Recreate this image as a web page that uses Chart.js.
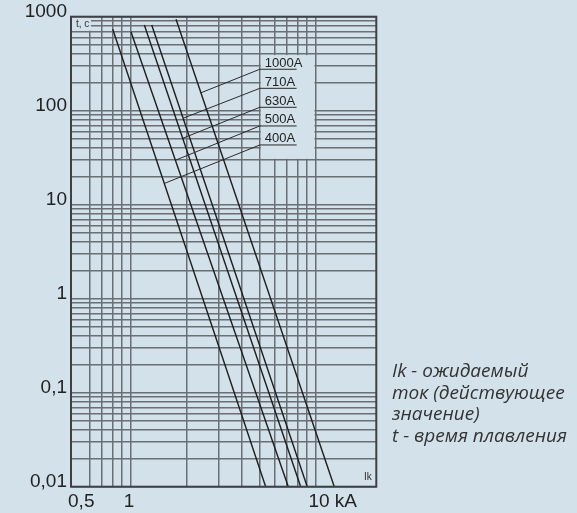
<!DOCTYPE html>
<html>
<head>
<meta charset="utf-8">
<script src="https://cdn.jsdelivr.net/npm/chart.js@4.4.1/dist/chart.umd.min.js"></script>
<style>
  html, body { margin: 0; padding: 0; background: #d3e1eb; }
  #wrap { position: relative; width: 577px; height: 513px; }
</style>
</head>
<body>
<div id="wrap">
  <canvas id="chart" width="577" height="513"></canvas>
</div>
<script>
// fuse ratings and their melting curves (straight lines in log-log)
const ratings = ['400A', '500A', '630A', '710A', '1000A'];
const iStart = [0.80, 1.004, 1.186, 1.30, 1.76];   // kA at the top of the curve
const tStart = [734, 692, 816, 816, 938];          // s
const iEnd = [5.38, 7.13, 8.32, 9.03, 12.65];      // kA where the curve leaves at 0,01 s
const tEnd = [0.01, 0.01, 0.01, 0.01, 0.01];

// leader lines from the curve to the underlined rating label
const leaderI = [1.53, 1.76, 1.91, 1.92, 2.40];
const leaderT = [16.9, 29.9, 50.8, 83, 155];
const underlineT = [43.2, 68.8, 108.7, 173, 276];
const underlineFrom = 5;
const underlineTo = 7.91;

// axes
const xGrid = [0.5, 0.6, 0.7, 0.8, 0.9, 1, 2, 3, 4, 5, 6, 7, 8, 9, 10];
const xLabelValues = [0.5, 1, 10];
const xLabelText = ['0,5', '1', '10 kA'];
const yDecades = [0.01, 0.1, 1, 10, 100];
const ySteps = [1, 2, 3, 4, 5, 6, 7, 8, 9];
const yLabelValues = [0.01, 0.1, 1, 10, 100, 1000];
const yLabelText = ['0,01', '0,1', '1', '10', '100', '1000'];

const noteLines = ['Ik - ожидаемый', 'ток (действующее', 'значение)', 't - время плавления'];

const BG = '#d3e1eb';
const GRID = '#6a6f74';
const INK = '#1e1e1e';
const SANS = '"Liberation Sans", Arial, sans-serif';

const yGrid = [];
yDecades.forEach(d => ySteps.forEach(s => yGrid.push(d * s)));
yGrid.push(1000);

const datasets = [];
ratings.forEach((r, k) => {
  datasets.push({
    label: r,
    data: [{x: iStart[k], y: tStart[k]}, {x: iEnd[k], y: tEnd[k]}],
    borderColor: INK,
    borderWidth: 1.4,
    pointRadius: 0
  });
  datasets.push({
    label: r + ' leader',
    data: [
      {x: leaderI[k], y: leaderT[k]},
      {x: underlineFrom, y: underlineT[k]},
      {x: underlineTo, y: underlineT[k]}
    ],
    borderColor: '#2a2a2a',
    borderWidth: 1,
    pointRadius: 0
  });
});

const overlay = {
  id: 'overlay',
  beforeDatasetsDraw(chart) {
    const {ctx, chartArea, scales: {x, y}} = chart;
    ctx.save();
    ctx.fillStyle = BG;
    // empty panel behind the rating labels
    const l = x.getPixelForValue(5) + 1, r = x.getPixelForValue(10) - 1;
    const t = y.getPixelForValue(400) + 1, b = y.getPixelForValue(30) - 1;
    ctx.fillRect(l, t, r - l, b - t);
    // corner behind "t, c"
    ctx.fillRect(chartArea.left + 1, chartArea.top + 1, 19, 13);
    ctx.restore();
  },
  afterDraw(chart) {
    const {ctx, chartArea, scales: {x, y}} = chart;
    ctx.save();
    ctx.strokeStyle = '#3d4145';
    ctx.lineWidth = 2;
    ctx.strokeRect(chartArea.left, chartArea.top, chartArea.right - chartArea.left, chartArea.bottom - chartArea.top);

    ctx.fillStyle = '#222';
    ctx.font = '13px ' + SANS;
    ctx.textBaseline = 'alphabetic';
    ratings.forEach((r, k) => {
      ctx.fillText(r, x.getPixelForValue(underlineFrom) + 5, y.getPixelForValue(underlineT[k]) - 2.5);
    });

    ctx.fillStyle = '#333';
    ctx.font = '10px ' + SANS;
    ctx.textBaseline = 'middle';
    ctx.fillText('t, c', chartArea.left + 5, chartArea.top + 8);
    ctx.fillText('Ik', x.getPixelForValue(18.3), y.getPixelForValue(0.0127));

    ctx.fillStyle = '#333';
    ctx.font = 'italic 19px "Open Sans", sans-serif';
    ctx.textBaseline = 'alphabetic';
    noteLines.forEach((s, k) => ctx.fillText(s, 392, 377 + k * 21.7));
    ctx.restore();
  }
};

new Chart(document.getElementById('chart'), {
  type: 'line',
  data: {datasets},
  options: {
    responsive: false,
    animation: false,
    layout: {padding: {top: 16.7, right: 200.7, left: 0, bottom: 0}},
    plugins: {legend: {display: false}, tooltip: {enabled: false}},
    scales: {
      x: {
        type: 'logarithmic',
        min: 0.4755,
        max: 21.35,
        afterBuildTicks: s => { s.ticks = xGrid.map(v => ({value: v})); },
        afterFit: s => { s.height = 26.3; },
        border: {display: false},
        grid: {
          drawTicks: false,
          color: c => (c.tick && c.tick.value === 0.5) ? 'transparent' : GRID,
          lineWidth: 1.5
        },
        ticks: {
          autoSkip: false,
          maxRotation: 0,
          align: 'start',
          labelOffset: -7,
          padding: 4,
          color: '#222',
          font: {family: SANS, size: 19},
          callback: v => {
            const k = xLabelValues.indexOf(v);
            return k < 0 ? '' : xLabelText[k];
          }
        }
      },
      y: {
        type: 'logarithmic',
        min: 0.01,
        max: 1000,
        afterBuildTicks: s => { s.ticks = yGrid.map(v => ({value: v})); },
        afterFit: s => { s.width = 71; },
        border: {display: false},
        grid: {drawTicks: false, color: GRID, lineWidth: 1.5},
        ticks: {
          autoSkip: false,
          labelOffset: -5,
          padding: 4,
          color: '#222',
          font: {family: SANS, size: 19},
          callback: v => {
            const k = yLabelValues.indexOf(v);
            return k < 0 ? '' : yLabelText[k];
          }
        }
      }
    }
  },
  plugins: [overlay]
});
</script>
</body>
</html>
